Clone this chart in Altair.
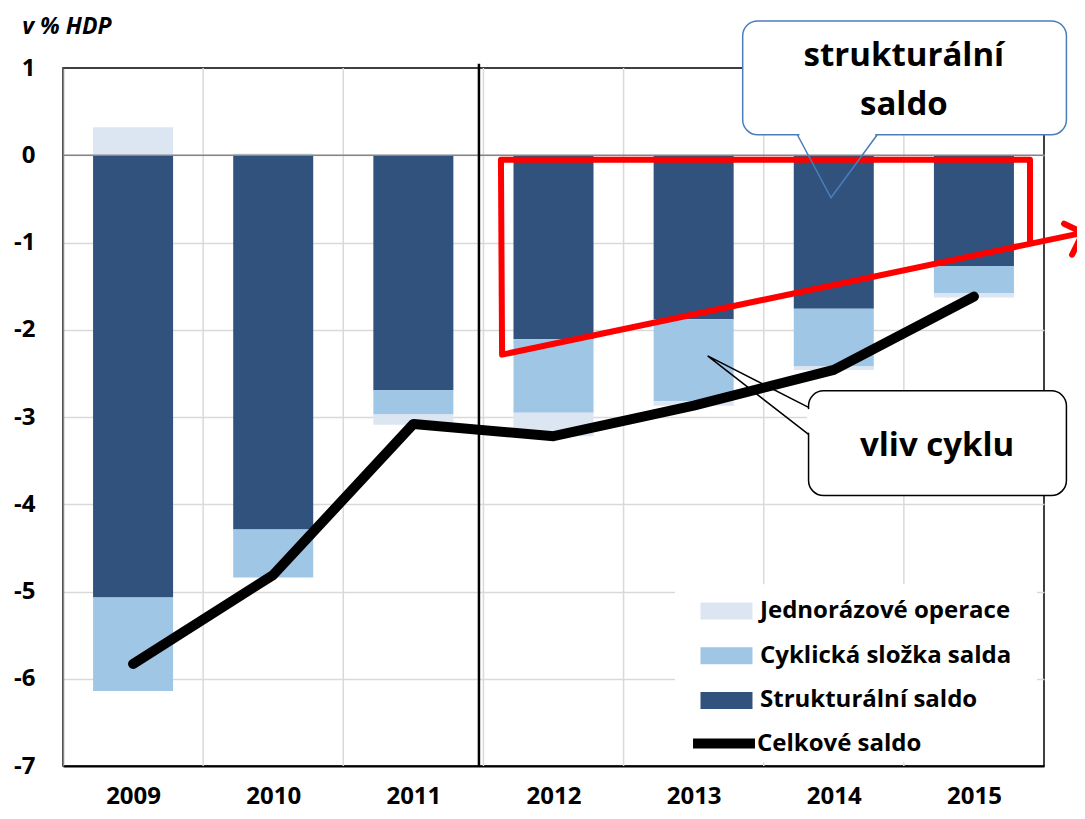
import altair as alt
import pandas as pd

# ---------------- data ----------------
years = [2009, 2010, 2011, 2012, 2013, 2014, 2015]
structural = [-5.07, -4.29, -2.69, -2.11, -1.88, -1.76, -1.27]
cyclical = [-1.07, -0.55, -0.28, -0.84, -0.94, -0.66, -0.31]
one_off = [0.32, 0.02, -0.12, -0.27, -0.05, -0.04, -0.05]
total = [-5.83, -4.81, -3.08, -3.22, -2.87, -2.46, -1.62]

series_names = ["Jednorázové operace", "Cyklická složka salda", "Strukturální saldo"]
series_colors = ["#DCE6F2", "#A0C6E6", "#31527C"]
line_name = "Celkové saldo"
y_ticks = [-7, -6, -5, -4, -3, -2, -1, 0, 1]
year_boundaries = [2009.5, 2010.5, 2011.5, 2012.5, 2013.5, 2014.5]

# annotation geometry (data coordinates: year, % of GDP)
red_x = [2015.40, 2015.40, 2011.625, 2011.633, 2015.778]
red_y = [-1.014, -0.052, -0.052, -2.285, -0.888]
arrow_x = [2015.643, 2015.778, 2015.700]
arrow_y = [-0.785, -0.888, -1.140]
sep_x = [2011.468]
sep_top = [1.048]
sep_bottom = [-7.0]
legend_bg = {"x0": [2012.867], "x1": [2015.45], "y0": [-4.917], "y1": [-6.96]}
box1 = {"x0": [2013.35], "x1": [2015.66], "y0": [0.235], "y1": [1.54]}
ptr1_x = [2013.74, 2013.98, 2014.31]
ptr1_y = [0.235, -0.487, 0.235]
box2 = {"x0": [2013.82], "x1": [2015.66], "y0": [-2.70], "y1": [-3.90]}
ptr2_x = [2013.82, 2013.10, 2013.82]
ptr2_y = [-2.89, -2.30, -3.20]
text1 = {"x": [2014.50, 2014.50], "y": [1.134, 0.573], "t": ["strukturální", "saldo"]}
text2 = {"x": [2014.737], "y": [-3.328], "t": ["vliv cyklu"]}
title_pos = {"x": [2008.21], "y": [1.395], "t": ["v % HDP"]}

# ---------------- tables ----------------
rows = []
for i, yr in enumerate(years):
    rows.append({"year": yr, "series": "Strukturální saldo", "order": 0, "value": structural[i]})
    rows.append({"year": yr, "series": "Cyklická složka salda", "order": 1, "value": cyclical[i]})
    rows.append({"year": yr, "series": "Jednorázové operace", "order": 2, "value": one_off[i]})
bars_df = pd.DataFrame(rows)
line_df = pd.DataFrame({"year": years, "total": total, "series": [line_name] * len(years)})

FONT = "Open Sans"
xscale = alt.Scale(domain=[2008.5, 2015.5], nice=False, zero=False)
yscale = alt.Scale(domain=[-7, 1], nice=False, zero=False)

legend_bars = alt.Legend(
    orient="none", legendX=651.5, legendY=531,
    symbolType="M-2.476,-0.81H2.476V0.81H-2.476Z", symbolSize=441,
    symbolStrokeWidth=0, symbolOpacity=1,
    labelFont=FONT, labelFontSize=24, labelFontWeight="bold", labelColor="black",
    labelOffset=21.5, labelLimit=500, rowPadding=20.7, padding=0, title=None,
)
legend_line = alt.Legend(
    orient="none", legendX=645.5, legendY=660,
    symbolType="M-2.95,0H2.95", symbolSize=441, symbolStrokeWidth=10,
    labelFont=FONT, labelFontSize=24, labelFontWeight="bold", labelColor="black",
    labelOffset=17.5, labelLimit=500, padding=0, title=None,
)

vgrid = alt.Chart(pd.DataFrame({"b": year_boundaries})).mark_rule(
    color="#D9D9D9", strokeWidth=1.5
).encode(x=alt.X("b:Q", scale=xscale, title=None))

bars = alt.Chart(bars_df).transform_stack(
    stack="value", groupby=["year"], as_=["v0", "v1"],
    sort=[alt.SortField("order", order="ascending")],
).transform_calculate(
    x0="datum.year - 0.2855", x1="datum.year + 0.2855"
).mark_bar().encode(
    x=alt.X("x0:Q", scale=xscale, title=None,
            axis=alt.Axis(values=years, format="d", grid=False)),
    x2="x1:Q",
    y=alt.Y("v0:Q", scale=yscale, title=None,
            axis=alt.Axis(values=y_ticks, labelExpr="'' + datum.value", grid=True,
                          gridOpacity={"condition": {"test": "datum.value === 1 || datum.value === -7", "value": 0}, "value": 1})),
    y2="v1:Q",
    fill=alt.Fill("series:N", scale=alt.Scale(domain=series_names, range=series_colors),
                  legend=legend_bars, title=None),
)

zero = alt.Chart(pd.DataFrame({"z": [0]})).mark_rule(color="#868686", strokeWidth=1.5).encode(
    y=alt.Y("z:Q", scale=yscale, title=None)
)

sep = alt.Chart(pd.DataFrame({"x": sep_x, "t": sep_top, "b": sep_bottom})).mark_rule(
    color="black", strokeWidth=2.5
).encode(x=alt.X("x:Q", scale=xscale, title=None), y=alt.Y("t:Q", scale=yscale, title=None), y2="b:Q")

leg_bg = alt.Chart(pd.DataFrame(legend_bg)).mark_rect(fill="white").encode(
    x=alt.X("x0:Q", scale=xscale, title=None), x2="x1:Q",
    y=alt.Y("y0:Q", scale=yscale, title=None), y2="y1:Q",
)

red = alt.Chart(pd.DataFrame({"x": red_x, "y": red_y, "i": list(range(len(red_x)))})).mark_line(
    color="#FF0000", strokeWidth=6, strokeJoin="round", strokeCap="round"
).encode(x=alt.X("x:Q", scale=xscale, title=None), y=alt.Y("y:Q", scale=yscale, title=None), order="i:Q")

arrow = alt.Chart(pd.DataFrame({"x": arrow_x, "y": arrow_y, "i": list(range(len(arrow_x)))})).mark_line(
    color="#FF0000", strokeWidth=6, strokeJoin="round", strokeCap="round"
).encode(x=alt.X("x:Q", scale=xscale, title=None), y=alt.Y("y:Q", scale=yscale, title=None), order="i:Q")

line = alt.Chart(line_df).mark_line(strokeWidth=10, strokeCap="round", strokeJoin="round").encode(
    x=alt.X("year:Q", scale=xscale, title=None),
    y=alt.Y("total:Q", scale=yscale, title=None),
    stroke=alt.Stroke("series:N", scale=alt.Scale(domain=[line_name], range=["black"]),
                      legend=legend_line, title=None),
)


def callout(box, px, py, color):
    b = alt.Chart(pd.DataFrame(box)).mark_rect(
        fill="white", stroke=color, strokeWidth=1.5, cornerRadius=15
    ).encode(
        x=alt.X("x0:Q", scale=xscale, title=None), x2="x1:Q",
        y=alt.Y("y0:Q", scale=yscale, title=None), y2="y1:Q",
    )
    if py[0] == py[2]:
        cover_df = pd.DataFrame({"a": [px[0] + 0.015], "c": [px[2] - 0.015], "y": [py[0]]})
        cover = alt.Chart(cover_df).mark_rule(color="white", strokeWidth=3).encode(
            x=alt.X("a:Q", scale=xscale, title=None), x2="c:Q",
            y=alt.Y("y:Q", scale=yscale, title=None))
    else:
        cover_df = pd.DataFrame({"x": [px[0]], "a": [py[0] - 0.02], "c": [py[2] + 0.02]})
        cover = alt.Chart(cover_df).mark_rule(color="white", strokeWidth=3).encode(
            x=alt.X("x:Q", scale=xscale, title=None),
            y=alt.Y("a:Q", scale=yscale, title=None), y2="c:Q")
    p = alt.Chart(pd.DataFrame({"x": px, "y": py, "i": [0, 1, 2]})).mark_line(
        color=color, strokeWidth=1.5, strokeJoin="miter"
    ).encode(x=alt.X("x:Q", scale=xscale, title=None), y=alt.Y("y:Q", scale=yscale, title=None), order="i:Q")
    return [b, cover, p]


def texts(d, size, style="normal"):
    return alt.Chart(pd.DataFrame(d)).mark_text(
        font=FONT, fontWeight="bold", fontSize=size, fontStyle=style, color="black",
        align="center", baseline="middle"
    ).encode(x=alt.X("x:Q", scale=xscale, title=None), y=alt.Y("y:Q", scale=yscale, title=None), text="t:N")


title = alt.Chart(pd.DataFrame(title_pos)).mark_text(
    font=FONT, fontWeight="bold", fontSize=23, fontStyle="italic", color="black",
    align="left", baseline="alphabetic"
).encode(x=alt.X("x:Q", scale=xscale, title=None), y=alt.Y("y:Q", scale=yscale, title=None), text="t:N")

layers = [vgrid, bars, zero, sep, leg_bg, red, arrow, line]
layers += callout(box2, ptr2_x, ptr2_y, "black")
layers += callout(box1, ptr1_x, ptr1_y, "#4A7EBB")
layers += [texts(text1, 33), texts(text2, 33), title]

chart = alt.layer(*layers).properties(
    width=981, height=698,
    autosize=alt.AutoSizeParams(type="none"),
    padding={"left": 55, "top": 60, "right": 33, "bottom": 45},
).configure_view(
    stroke="black", strokeWidth=1.5
).configure_axis(
    labelFont=FONT, labelFontWeight="bold", labelColor="black", ticks=False, tickSize=0,
).configure_axisX(
    domainColor="black", domainWidth=2, labelFontSize=24, labelPadding=18,
).configure_axisY(
    domainColor="#868686", domainWidth=1.5, labelFontSize=24, labelPadding=28,
    gridColor="#D9D9D9", gridWidth=1.5,
)

chart.save("out.html", embed_options={"renderer": "svg", "actions": False})
